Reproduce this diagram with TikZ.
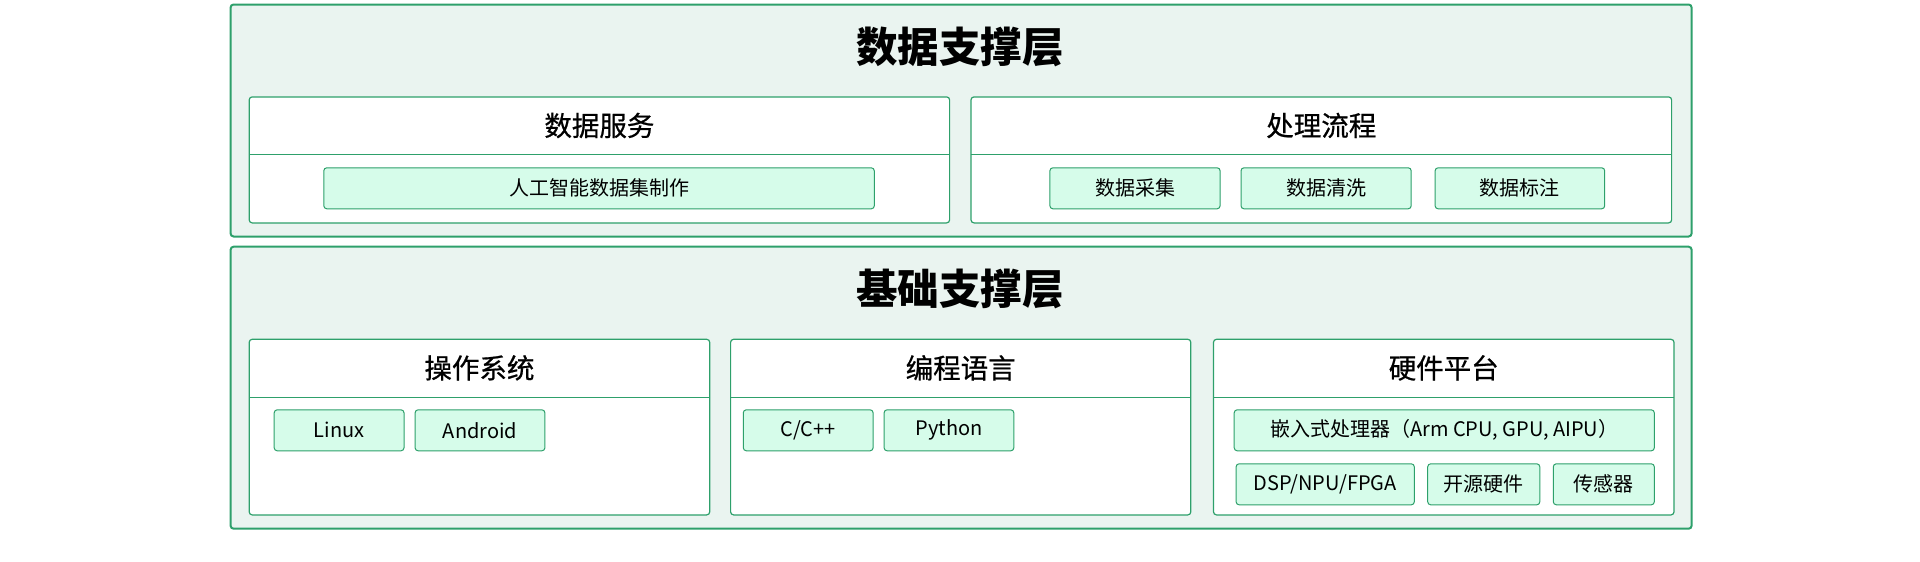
\documentclass[tikz,border=0pt]{standalone}
\usepackage{fontspec}
\setmainfont{Noto Sans CJK SC}
\newfontfamily\headcjk[FakeBold=0.7]{Noto Sans CJK SC}
\usetikzlibrary{positioning}
\definecolor{edgegreen}{RGB}{46,160,107}
\definecolor{layerbg}{RGB}{234,244,240}
\definecolor{itembg}{RGB}{214,252,234}
\newcommand{\layerfont}{\fontsize{41.5}{46}\selectfont\bfseries}
\newcommand{\headfont}{\headcjk\fontsize{27.5}{30}\selectfont}
\newcommand{\itemfont}{\fontsize{20}{22}\selectfont}
\tikzset{
  layer/.style={draw=edgegreen,line width=2pt,fill=layerbg,rounded corners=3pt,anchor=north west,inner sep=0pt},
  panel/.style={draw=edgegreen,line width=1.2pt,fill=white,rounded corners=3pt,anchor=north west,inner sep=0pt},
  head/.style={anchor=north,minimum height=58pt,inner sep=0pt,font=\headfont},
  item/.style={draw=edgegreen,line width=1pt,fill=itembg,rounded corners=3pt,anchor=north west,inner sep=0pt,minimum height=41pt,font=\itemfont},
}
\begin{document}
\begin{tikzpicture}[x=1pt,y=-1pt]
\useasboundingbox (0,0) rectangle (1920,562);
% upper layer
\node (dlayer) [layer,minimum width=1461pt,minimum height=232pt] at (229.6,3.5) {};
\node (dtitle) [font=\layerfont] at (960,46.5) {数据支撑层};
\node (dsvc) [panel,minimum width=700.4pt,minimum height=126pt] at (248.6,96.3) {};
\node (dsvch) [head,minimum width=700.4pt] at (dsvc.north) {数据服务};
\node (dflow) [panel,minimum width=700.6pt,minimum height=126pt] at (970.4,96.3) {};
\node (dflowh) [head,minimum width=700.6pt] at (dflow.north) {处理流程};
\draw[edgegreen,line width=1.2pt] (dsvch.south west) -- (dsvch.south east);
\draw[edgegreen,line width=1.2pt] (dflowh.south west) -- (dflowh.south east);
%
\node (aiset) [item,minimum width=550.5pt] at (323.3,167.3) {人工智能数据集制作};
\node (collect) [item,minimum width=170.2pt] at (1049.4,167.3) {数据采集};
\node (clean) [item,minimum width=170.2pt] at (1240.5,167.3) {数据清洗};
\node (label) [item,minimum width=169.6pt] at (1434.6,167.3) {数据标注};
% lower layer
\node (blayer) [layer,minimum width=1461pt,minimum height=282pt] at (229.6,245.7) {};
\node (btitle) [font=\layerfont] at (960,288.5) {基础支撑层};
\node (os) [panel,minimum width=460.5pt,minimum height=175.6pt] at (248.6,338.7) {};
\node (osh) [head,minimum width=460.5pt] at (os.north) {操作系统};
\node (lang) [panel,minimum width=460.2pt,minimum height=175.6pt] at (730,338.7) {};
\node (langh) [head,minimum width=460.2pt] at (lang.north) {编程语言};
\node (hw) [panel,minimum width=460.5pt,minimum height=175.6pt] at (1212.9,338.7) {};
\node (hwh) [head,minimum width=460.5pt] at (hw.north) {硬件平台};
\draw[edgegreen,line width=1.2pt] (osh.south west) -- (osh.south east);
\draw[edgegreen,line width=1.2pt] (langh.south west) -- (langh.south east);
\draw[edgegreen,line width=1.2pt] (hwh.south west) -- (hwh.south east);
%
\node (linux) [item,minimum width=129.8pt] at (273.7,409.3) {Linux};
\node (android) [item,minimum width=129.8pt] at (414.6,409.3) {Android};
\node (cpp) [item,minimum width=129.8pt] at (742.8,409.3) {C/C++};
\node (python) [item,minimum width=129.7pt] at (883.6,409.3) {Python};
\node (embed) [item,minimum width=420.1pt] at (1233.7,409.3) {嵌入式处理器（Arm CPU, GPU, AIPU）};
\node (dsp) [item,minimum width=178.2pt] at (1235.6,463.3) {DSP/NPU/FPGA};
\node (oshw) [item,minimum width=112.1pt] at (1427.2,463.3) {开源硬件};
\node (sensor) [item,minimum width=101pt] at (1552.8,463.3) {传感器};
\end{tikzpicture}
\end{document}
